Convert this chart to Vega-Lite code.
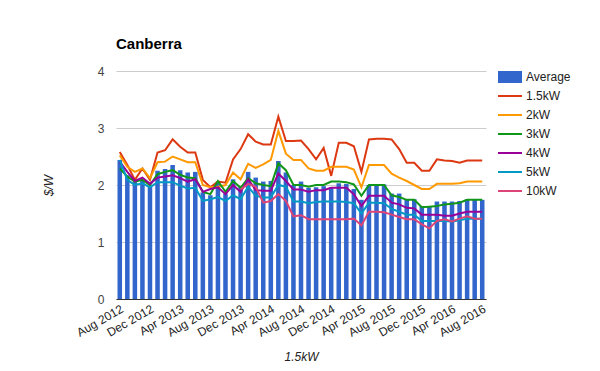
{
  "$schema": "https://vega.github.io/schema/vega-lite/v6.json",
  "autosize": {"type": "none"},
  "width": 370,
  "height": 228,
  "padding": {"left": 116, "top": 71, "right": 114, "bottom": 72},
  "background": "white",
  "config": {
    "view": {"stroke": null},
    "font": "Liberation Sans"
  },
  "title": {
    "text": "Canberra",
    "anchor": "start",
    "frame": "group",
    "fontSize": 15,
    "fontWeight": "bold",
    "color": "#000000",
    "offset": 13
  },
  "data": {
    "values": [
      {"month": "Aug 2012", "Average": 2.44, "kW1_5": 2.58, "kW2": 2.52, "kW3": 2.29, "kW4": 2.41, "kW5": 2.44, "kW10": null},
      {"month": "Sep 2012", "Average": 2.17, "kW1_5": 2.35, "kW2": 2.32, "kW3": 2.15, "kW4": 2.23, "kW5": 2.09, "kW10": null},
      {"month": "Oct 2012", "Average": 2.06, "kW1_5": 2.09, "kW2": 2.23, "kW3": 2.06, "kW4": 2.07, "kW5": 2.0, "kW10": null},
      {"month": "Nov 2012", "Average": 2.09, "kW1_5": 2.29, "kW2": 2.29, "kW3": 2.09, "kW4": 2.13, "kW5": 2.03, "kW10": null},
      {"month": "Dec 2012", "Average": 1.98, "kW1_5": 2.09, "kW2": 2.12, "kW3": 2.0, "kW4": 2.02, "kW5": 1.96, "kW10": null},
      {"month": "Jan 2013", "Average": 2.25, "kW1_5": 2.57, "kW2": 2.4, "kW3": 2.19, "kW4": 2.13, "kW5": 2.05, "kW10": null},
      {"month": "Feb 2013", "Average": 2.28, "kW1_5": 2.61, "kW2": 2.41, "kW3": 2.23, "kW4": 2.15, "kW5": 2.05, "kW10": null},
      {"month": "Mar 2013", "Average": 2.35, "kW1_5": 2.8, "kW2": 2.5, "kW3": 2.26, "kW4": 2.17, "kW5": 2.05, "kW10": null},
      {"month": "Apr 2013", "Average": 2.26, "kW1_5": 2.67, "kW2": 2.45, "kW3": 2.18, "kW4": 2.12, "kW5": 1.99, "kW10": null},
      {"month": "May 2013", "Average": 2.22, "kW1_5": 2.57, "kW2": 2.4, "kW3": 2.13, "kW4": 2.06, "kW5": 1.94, "kW10": null},
      {"month": "Jun 2013", "Average": 2.23, "kW1_5": 2.57, "kW2": 2.4, "kW3": 2.12, "kW4": 2.1, "kW5": 1.95, "kW10": null},
      {"month": "Jul 2013", "Average": 1.87, "kW1_5": 2.09, "kW2": 2.0, "kW3": 1.88, "kW4": 1.88, "kW5": 1.72, "kW10": null},
      {"month": "Aug 2013", "Average": 1.82, "kW1_5": 1.96, "kW2": 1.96, "kW3": 1.84, "kW4": 1.93, "kW5": 1.75, "kW10": null},
      {"month": "Sep 2013", "Average": 2.06, "kW1_5": 2.06, "kW2": 1.97, "kW3": 2.07, "kW4": 1.96, "kW5": 1.79, "kW10": null},
      {"month": "Oct 2013", "Average": 1.85, "kW1_5": 2.04, "kW2": 2.0, "kW3": 1.88, "kW4": 1.84, "kW5": 1.72, "kW10": null},
      {"month": "Nov 2013", "Average": 2.1, "kW1_5": 2.45, "kW2": 2.22, "kW3": 2.07, "kW4": 2.0, "kW5": 1.82, "kW10": null},
      {"month": "Dec 2013", "Average": 1.97, "kW1_5": 2.63, "kW2": 2.1, "kW3": 1.95, "kW4": 1.88, "kW5": 1.75, "kW10": 1.92},
      {"month": "Jan 2014", "Average": 2.23, "kW1_5": 2.89, "kW2": 2.37, "kW3": 2.12, "kW4": 2.1, "kW5": 1.97, "kW10": 2.02},
      {"month": "Feb 2014", "Average": 2.13, "kW1_5": 2.76, "kW2": 2.3, "kW3": 2.03, "kW4": 1.91, "kW5": 1.81, "kW10": 1.97},
      {"month": "Mar 2014", "Average": 2.06, "kW1_5": 2.71, "kW2": 2.36, "kW3": 2.0, "kW4": 1.9, "kW5": 1.78, "kW10": 1.69},
      {"month": "Apr 2014", "Average": 2.07, "kW1_5": 2.71, "kW2": 2.44, "kW3": 1.98, "kW4": 1.9, "kW5": 1.78, "kW10": 1.72},
      {"month": "May 2014", "Average": 2.42, "kW1_5": 3.2, "kW2": 2.95, "kW3": 2.38, "kW4": 2.2, "kW5": 2.0, "kW10": 1.84},
      {"month": "Jun 2014", "Average": 2.22, "kW1_5": 2.77, "kW2": 2.55, "kW3": 2.26, "kW4": 2.07, "kW5": 1.97, "kW10": 1.72},
      {"month": "Jul 2014", "Average": 2.0, "kW1_5": 2.77, "kW2": 2.44, "kW3": 2.0, "kW4": 1.92, "kW5": 1.71, "kW10": 1.45},
      {"month": "Aug 2014", "Average": 2.06, "kW1_5": 2.78, "kW2": 2.44, "kW3": 2.0, "kW4": 1.92, "kW5": 1.71, "kW10": 1.47},
      {"month": "Sep 2014", "Average": 1.95, "kW1_5": 2.63, "kW2": 2.29, "kW3": 1.97, "kW4": 1.88, "kW5": 1.68, "kW10": 1.4},
      {"month": "Oct 2014", "Average": 1.96, "kW1_5": 2.45, "kW2": 2.25, "kW3": 2.0, "kW4": 1.91, "kW5": 1.7, "kW10": 1.4},
      {"month": "Nov 2014", "Average": 1.98, "kW1_5": 2.65, "kW2": 2.25, "kW3": 2.0, "kW4": 1.91, "kW5": 1.71, "kW10": 1.4},
      {"month": "Dec 2014", "Average": 1.96, "kW1_5": 2.16, "kW2": 2.32, "kW3": 2.06, "kW4": 1.95, "kW5": 1.71, "kW10": 1.4},
      {"month": "Jan 2015", "Average": 2.03, "kW1_5": 2.74, "kW2": 2.32, "kW3": 2.06, "kW4": 1.95, "kW5": 1.71, "kW10": 1.4},
      {"month": "Feb 2015", "Average": 2.02, "kW1_5": 2.74, "kW2": 2.32, "kW3": 2.05, "kW4": 1.95, "kW5": 1.7, "kW10": 1.4},
      {"month": "Mar 2015", "Average": 1.93, "kW1_5": 2.68, "kW2": 2.27, "kW3": 2.01, "kW4": 1.84, "kW5": 1.68, "kW10": 1.41},
      {"month": "Apr 2015", "Average": 1.74, "kW1_5": 2.23, "kW2": 1.96, "kW3": 1.81, "kW4": 1.63, "kW5": 1.5, "kW10": 1.29},
      {"month": "May 2015", "Average": 2.0, "kW1_5": 2.8, "kW2": 2.35, "kW3": 2.0, "kW4": 1.81, "kW5": 1.69, "kW10": 1.53},
      {"month": "Jun 2015", "Average": 2.01, "kW1_5": 2.81, "kW2": 2.35, "kW3": 2.0, "kW4": 1.81, "kW5": 1.69, "kW10": 1.53},
      {"month": "Jul 2015", "Average": 2.01, "kW1_5": 2.81, "kW2": 2.35, "kW3": 2.0, "kW4": 1.81, "kW5": 1.68, "kW10": 1.52},
      {"month": "Aug 2015", "Average": 1.85, "kW1_5": 2.8, "kW2": 2.2, "kW3": 1.82, "kW4": 1.69, "kW5": 1.58, "kW10": 1.48},
      {"month": "Sep 2015", "Average": 1.85, "kW1_5": 2.63, "kW2": 2.13, "kW3": 1.79, "kW4": 1.66, "kW5": 1.53, "kW10": 1.44},
      {"month": "Oct 2015", "Average": 1.75, "kW1_5": 2.39, "kW2": 2.07, "kW3": 1.74, "kW4": 1.6, "kW5": 1.48, "kW10": 1.4},
      {"month": "Nov 2015", "Average": 1.75, "kW1_5": 2.39, "kW2": 2.0, "kW3": 1.74, "kW4": 1.59, "kW5": 1.48, "kW10": 1.4},
      {"month": "Dec 2015", "Average": 1.63, "kW1_5": 2.25, "kW2": 1.93, "kW3": 1.61, "kW4": 1.48, "kW5": 1.37, "kW10": 1.31},
      {"month": "Jan 2016", "Average": 1.63, "kW1_5": 2.25, "kW2": 1.93, "kW3": 1.62, "kW4": 1.48, "kW5": 1.37, "kW10": 1.24},
      {"month": "Feb 2016", "Average": 1.71, "kW1_5": 2.45, "kW2": 2.02, "kW3": 1.63, "kW4": 1.48, "kW5": 1.37, "kW10": 1.37},
      {"month": "Mar 2016", "Average": 1.71, "kW1_5": 2.43, "kW2": 2.02, "kW3": 1.66, "kW4": 1.46, "kW5": 1.37, "kW10": 1.4},
      {"month": "Apr 2016", "Average": 1.71, "kW1_5": 2.42, "kW2": 2.02, "kW3": 1.67, "kW4": 1.46, "kW5": 1.36, "kW10": 1.36},
      {"month": "May 2016", "Average": 1.72, "kW1_5": 2.39, "kW2": 2.03, "kW3": 1.69, "kW4": 1.5, "kW5": 1.38, "kW10": 1.41},
      {"month": "Jun 2016", "Average": 1.75, "kW1_5": 2.43, "kW2": 2.06, "kW3": 1.74, "kW4": 1.53, "kW5": 1.41, "kW10": 1.45},
      {"month": "Jul 2016", "Average": 1.74, "kW1_5": 2.43, "kW2": 2.06, "kW3": 1.74, "kW4": 1.53, "kW5": 1.41, "kW10": 1.41},
      {"month": "Aug 2016", "Average": 1.74, "kW1_5": 2.43, "kW2": 2.06, "kW3": 1.74, "kW4": 1.53, "kW5": 1.41, "kW10": 1.41}
    ]
  },
  "encoding": {
    "x": {
      "field": "month",
      "type": "ordinal",
      "sort": null,
      "scale": {"paddingInner": 0.4, "paddingOuter": 0.2},
      "axis": {
        "values": ["Aug 2012", "Dec 2012", "Apr 2013", "Aug 2013", "Dec 2013", "Apr 2014", "Aug 2014", "Dec 2014", "Apr 2015", "Aug 2015", "Dec 2015", "Apr 2016", "Aug 2016"],
        "labelAngle": -30,
        "labelAlign": "right",
        "labelBaseline": "top",
        "labelFontSize": 12,
        "labelColor": "#222222",
        "labelPadding": 4,
        "ticks": false,
        "domainColor": "#333333",
        "title": "1.5kW",
        "titleFontStyle": "italic",
        "titleFontWeight": "normal",
        "titleFontSize": 12,
        "titleColor": "#222222",
        "titlePadding": 13
      }
    }
  },
  "layer": [
    {
      "mark": {"type": "bar"},
      "encoding": {
        "y": {
          "field": "Average",
          "type": "quantitative",
          "scale": {"domain": [0, 4]},
          "axis": {
            "values": [0, 1, 2, 3, 4],
            "format": "d",
            "grid": true,
            "gridColor": "#cccccc",
            "ticks": false,
            "domain": false,
            "labelFontSize": 12,
            "labelColor": "#444444",
            "labelPadding": 12,
            "title": "$/W",
            "titleFontStyle": "italic",
            "titleFontWeight": "normal",
            "titleFontSize": 12,
            "titleColor": "#222222",
            "titlePadding": 42
          }
        },
        "color": {"datum": "Average", "type": "nominal"}
      }
    },
    {
      "transform": [
        {"fold": ["kW1_5", "kW2", "kW3", "kW4", "kW5", "kW10"], "as": ["series", "value"]},
        {"filter": "isValid(datum.value)"}
      ],
      "mark": {"type": "line", "strokeWidth": 2},
      "encoding": {
        "y": {"field": "value", "type": "quantitative"},
        "color": {
          "field": "series",
          "type": "nominal",
          "scale": {
            "domain": ["Average", "kW1_5", "kW2", "kW3", "kW4", "kW5", "kW10"],
            "range": ["#3366cc", "#dc3912", "#ff9900", "#109618", "#990099", "#0099c6", "#dd4477"]
          },
          "legend": {
            "title": null,
            "offset": 17,
            "symbolType": "stroke",
            "symbolSize": 576,
            "symbolStrokeWidth": 2,
            "labelFontSize": 12,
            "labelColor": "#222222",
            "labelOffset": 10,
            "rowPadding": 7,
            "labelExpr": "{'Average': 'Average', 'kW1_5': '1.5kW', 'kW2': '2kW', 'kW3': '3kW', 'kW4': '4kW', 'kW5': '5kW', 'kW10': '10kW'}[datum.label]",
            "encode": {
              "symbols": {
                "update": {
                  "shape": {"signal": "datum.value === 'Average' ? 'M-1,-0.5H1V0.5H-1Z' : 'stroke'"},
                  "fill": {"signal": "datum.value === 'Average' ? '#3366cc' : 'transparent'"},
                  "strokeWidth": {"signal": "datum.value === 'Average' ? 0 : 2"}
                }
              }
            }
          }
        }
      }
    }
  ],
  "resolve": {"scale": {"color": "shared"}}
}
